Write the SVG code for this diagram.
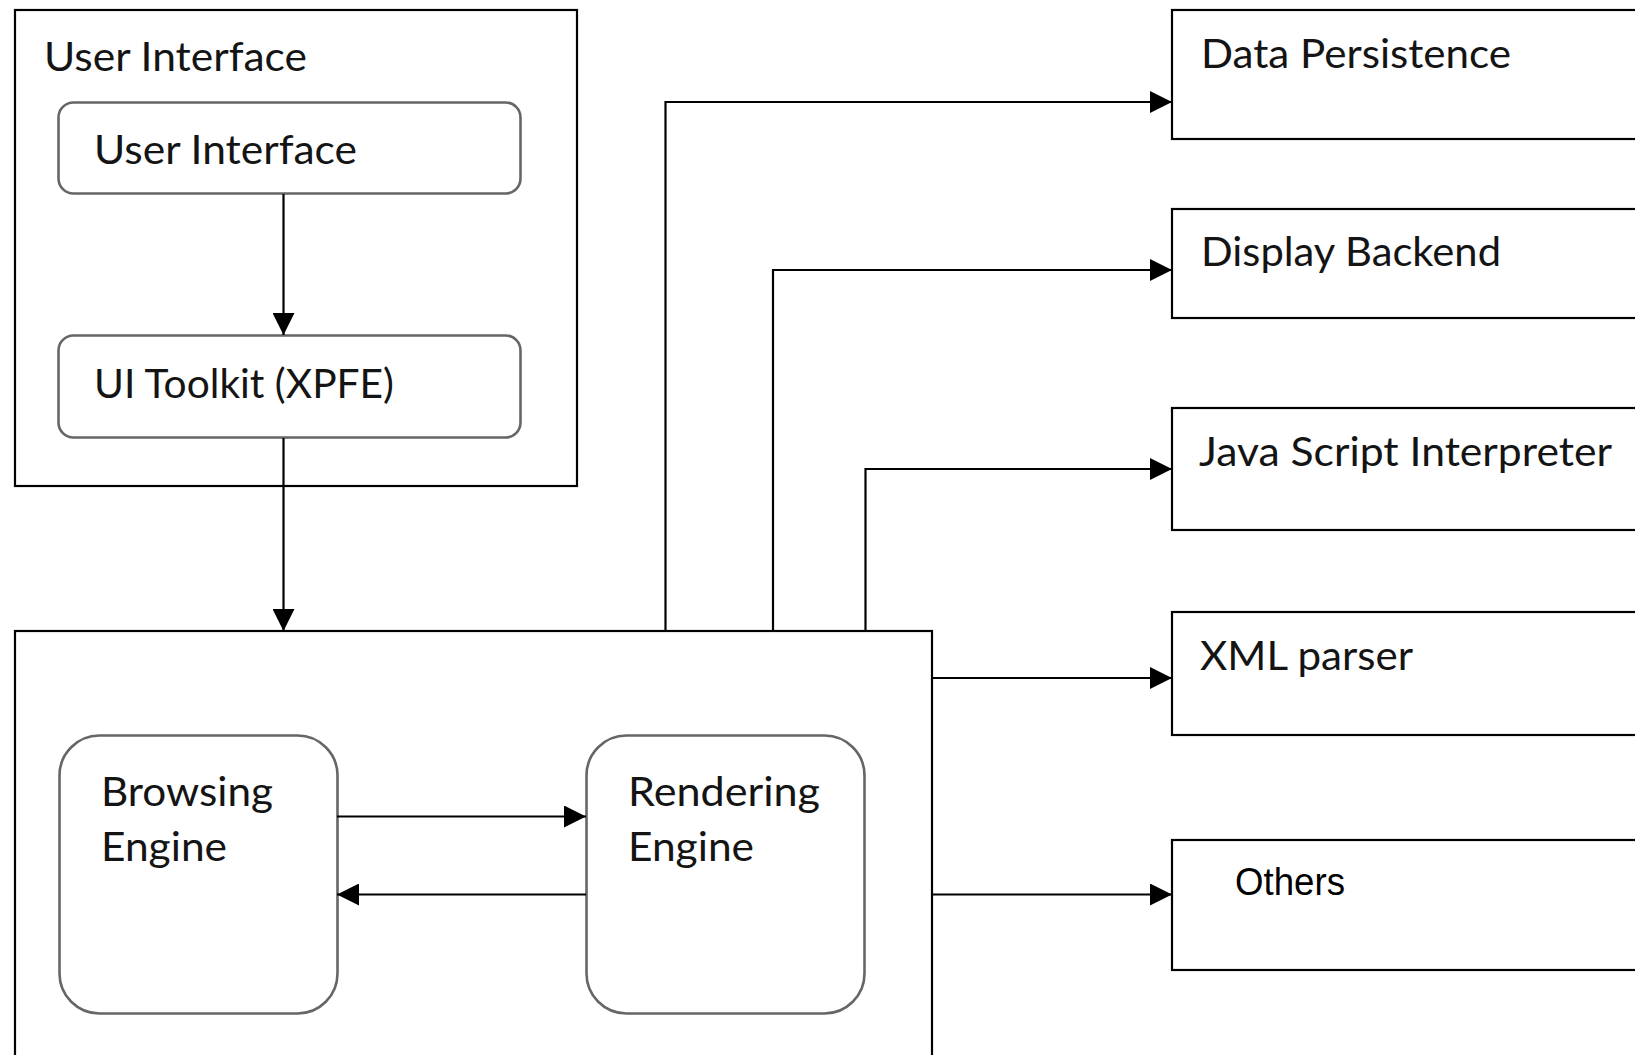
<svg xmlns="http://www.w3.org/2000/svg" width="1635" height="1055" viewBox="0 0 1635 1055">
<style>
.box{fill:#fff;stroke:#000;stroke-width:2.2}
.rbox{fill:#fff;stroke:#666;stroke-width:2.6}
.conn{fill:none;stroke:#000;stroke-width:2.2}
.t{font-family:Lato,"Open Sans","Liberation Sans",sans-serif;font-size:40px;fill:#141414}
.ta{font-family:"Liberation Sans",Arial,sans-serif;font-size:39px;fill:#000}
</style>
<defs>
<marker id="arr" markerUnits="userSpaceOnUse" markerWidth="24" markerHeight="22" refX="22" refY="11" orient="auto">
<path d="M0,0 L22,11 L0,22 Z" fill="#000"/>
</marker>
</defs>
<rect width="1635" height="1055" fill="#fff"/>
<g id="ui-container">
<rect class="box" x="15" y="10" width="562" height="476"/>
<text class="t" x="44" y="71" textLength="263" lengthAdjust="spacingAndGlyphs">User Interface</text>
</g>
<g id="user-interface">
<rect class="rbox" x="58.5" y="102.5" width="462" height="91" rx="15"/>
<text class="t" x="94" y="164" textLength="263" lengthAdjust="spacingAndGlyphs">User Interface</text>
</g>
<g id="ui-toolkit">
<rect class="rbox" x="58.5" y="335.5" width="462" height="102" rx="15"/>
<text class="t" x="94" y="398" textLength="300" lengthAdjust="spacingAndGlyphs">UI Toolkit (XPFE)</text>
</g>
<g id="engine-container">
<rect class="box" x="15" y="631" width="917" height="440"/>
</g>
<g id="browsing-engine">
<rect class="rbox" x="59.5" y="735.5" width="278" height="278" rx="40"/>
<text class="t" x="101" y="806" textLength="172" lengthAdjust="spacingAndGlyphs">Browsing</text>
<text class="t" x="101" y="861" textLength="126" lengthAdjust="spacingAndGlyphs">Engine</text>
</g>
<g id="rendering-engine">
<rect class="rbox" x="586.5" y="735.5" width="278" height="278" rx="40"/>
<text class="t" x="628" y="806" textLength="192" lengthAdjust="spacingAndGlyphs">Rendering</text>
<text class="t" x="628" y="861" textLength="126" lengthAdjust="spacingAndGlyphs">Engine</text>
</g>
<g id="data-persistence">
<rect class="box" x="1172" y="10" width="480" height="129"/>
<text class="t" x="1201" y="68" textLength="310" lengthAdjust="spacingAndGlyphs">Data Persistence</text>
</g>
<g id="display-backend">
<rect class="box" x="1172" y="209" width="480" height="109"/>
<text class="t" x="1201" y="266" textLength="300" lengthAdjust="spacingAndGlyphs">Display Backend</text>
</g>
<g id="js-interpreter">
<rect class="box" x="1172" y="408" width="480" height="122"/>
<text class="t" x="1199" y="466" textLength="413" lengthAdjust="spacingAndGlyphs">Java Script Interpreter</text>
</g>
<g id="xml-parser">
<rect class="box" x="1172" y="612" width="480" height="123"/>
<text class="t" x="1200" y="670" textLength="213" lengthAdjust="spacingAndGlyphs">XML parser</text>
</g>
<g id="others">
<rect class="box" x="1172" y="840" width="480" height="130"/>
<text class="ta" x="1235" y="895" textLength="110" lengthAdjust="spacingAndGlyphs">Others</text>
</g>
<g id="connectors">
<path class="conn" d="M283.5,194 V335" marker-end="url(#arr)"/>
<path class="conn" d="M283.5,438 V631" marker-end="url(#arr)"/>
<path class="conn" d="M665.5,631 V102 H1172" marker-end="url(#arr)"/>
<path class="conn" d="M773,631 V270 H1172" marker-end="url(#arr)"/>
<path class="conn" d="M865.5,631 V469 H1172" marker-end="url(#arr)"/>
<path class="conn" d="M932,678 H1172" marker-end="url(#arr)"/>
<path class="conn" d="M932,894.5 H1172" marker-end="url(#arr)"/>
<path class="conn" d="M337,816.5 H586" marker-end="url(#arr)"/>
<path class="conn" d="M586,894.5 H337" marker-end="url(#arr)"/>
</g>
</svg>
